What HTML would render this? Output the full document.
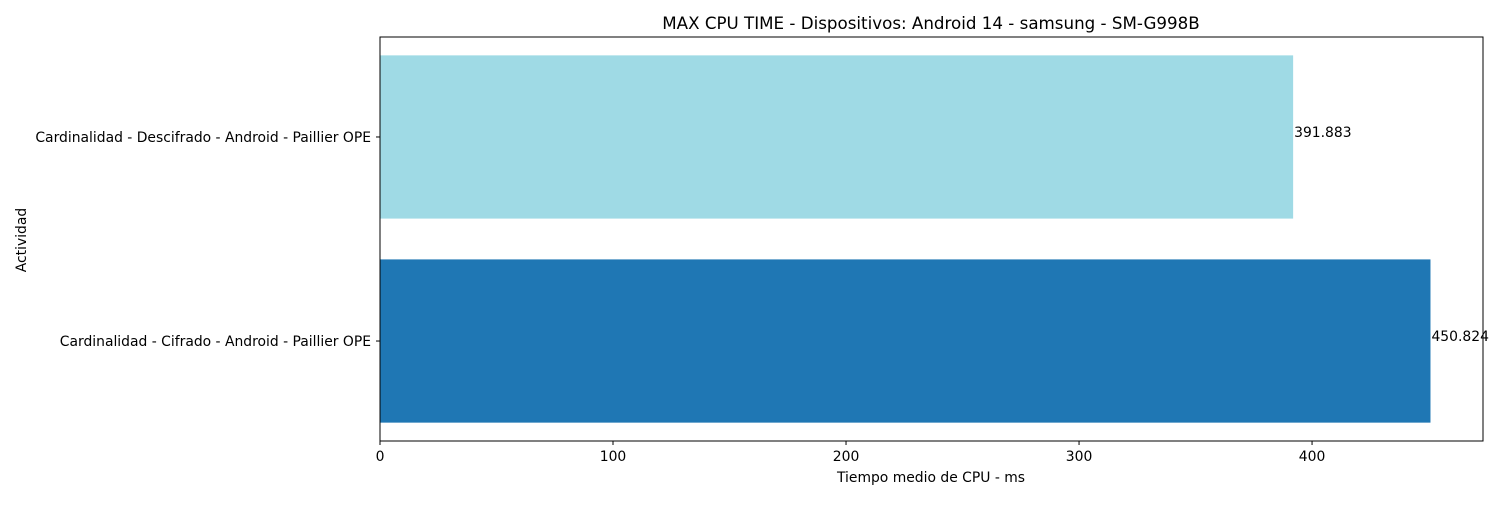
<!DOCTYPE html>
<html><head><meta charset="utf-8"><style>
body{margin:0;background:#fff;}
svg text{font-family:"DejaVu Sans","Liberation Sans",sans-serif;fill:#000;}
</style></head><body>
<svg id="chart" width="1500" height="500">
<text x="931" y="29" font-size="16.7" text-anchor="middle">MAX CPU TIME - Dispositivos: Android 14 - samsung - SM-G998B</text>
<text x="931" y="482" font-size="13.9" text-anchor="middle">Tiempo medio de CPU - ms</text>
<text transform="translate(26,240) rotate(-90)" font-size="13.9" text-anchor="middle">Actividad</text>
<g id="bars"></g>
<g id="xticks"></g>
<g id="yticks"></g>
<rect x="380" y="37" width="1103" height="404" fill="none" stroke="#000" stroke-width="1"/>
</svg>
<script>
const categories = ["Cardinalidad - Cifrado - Android - Paillier OPE","Cardinalidad - Descifrado - Android - Paillier OPE"];
const values = [450.824, 391.883];
const labels = ["450.824","391.883"];
const colors = ["#1f77b4","#9fdae5"];
const xTicks = [0,100,200,300,400];

const NS="http://www.w3.org/2000/svg";
const L=380,R=1483,T=37,B=441;
const xmax=Math.max(...values)*1.05;
const x=v=>L+v/xmax*(R-L);
const n=categories.length;
const ymin=-0.4-0.05*(n-1+0.8), ymax=n-1+0.4+0.05*(n-1+0.8);
const y=v=>B-(v-ymin)/(ymax-ymin)*(B-T);
function mk(tag,attrs,parent){const e=document.createElementNS(NS,tag);for(const k in attrs)e.setAttribute(k,attrs[k]);parent.appendChild(e);return e;}
const gb=document.getElementById('bars'),gx=document.getElementById('xticks'),gy=document.getElementById('yticks');
values.forEach((v,i)=>{
 const r=mk('rect',{x:x(0),y:y(i+0.4),width:x(v)-x(0),height:y(i-0.4)-y(i+0.4),fill:colors[i%colors.length]},gb);
 
 
 const t=mk('text',{x:x(v)+1,y:y(i)+0,'font-size':13.9},gb);
 t.textContent=labels[i];
 
 
 mk('line',{x1:L-4,x2:L,y1:y(i),y2:y(i),stroke:'#000'},gy);
 const c=mk('text',{x:L-9,y:y(i)+5,'font-size':13.9,'text-anchor':'end'},gy);
 c.textContent=categories[i];
 
 
});
xTicks.forEach(v=>{
 mk('line',{x1:x(v),x2:x(v),y1:B,y2:B+4,stroke:'#000'},gx);
 const t=mk('text',{x:x(v),y:B+20,'font-size':13.9,'text-anchor':'middle'},gx);
 t.textContent=v;
 
 
});
</script>
</body></html>
